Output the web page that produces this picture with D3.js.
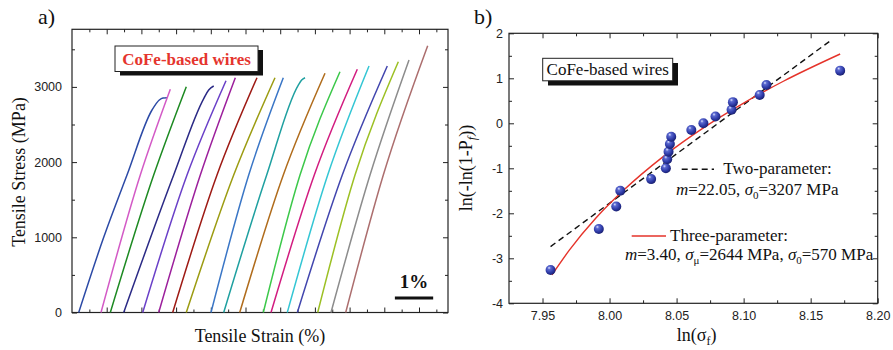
<!DOCTYPE html>
<html lang="en">
<head>
  <meta charset="UTF-8">
  <title>CoFe wires</title>
  <style>
    body { margin: 0; background: #fff; }
    text { fill: #111; }
  </style>
</head>
<script src="https://cdnjs.cloudflare.com/ajax/libs/d3/7.8.5/d3.min.js"></script>
<body>
<div id="chart"></div>
<script>

// ---- panel a) : tensile curves, [strain %, stress MPa]
var curveColors = ["#2c4aa6", "#d35ac6", "#1d8a22", "#2b2a86", "#6a40c8", "#9c1f9c",
                   "#9e1a14", "#9c9c12", "#3a76c6", "#1fa0a0", "#b06c1c", "#3cc84a",
                   "#d21c80", "#34c6d4", "#4246ae", "#9cc024", "#8c8c8c", "#ac6e6e"];

var curvePoints = [
  [[0.175, 0], [0.828, 1000], [1.436, 1828], [2.089, 2693], [2.279, 2826], [2.376, 2852], [2.480, 2856]],
  [[0.757, 0], [1.783, 1828], [2.567, 2968]],
  [[1.000, 0], [2.133, 1828], [2.984, 3003]],
  [[1.350, 0], [2.655, 1828], [3.446, 2852], [3.569, 2959], [3.700, 3012]],
  [[1.846, 0], [3.003, 1828], [4.021, 3082]],
  [[2.264, 0], [3.350, 1828], [4.264, 3122]],
  [[2.629, 0], [3.786, 1828], [4.830, 3122]],
  [[2.984, 0], [4.222, 1828], [5.300, 3122]],
  [[3.629, 0], [4.614, 1828], [5.517, 3122]],
  [[3.961, 0], [5.083, 1828], [5.909, 3025], [5.997, 3092], [6.084, 3122]],
  [[4.379, 0], [5.517, 1828], [6.606, 3181]],
  [[4.995, 0], [5.953, 1828], [6.997, 3202]],
  [[5.196, 0], [6.326, 1828], [7.449, 3234]],
  [[5.621, 0], [6.676, 1828], [7.755, 3278]],
  [[5.883, 0], [7.057, 1828], [8.232, 3278]],
  [[6.415, 0], [7.389, 1828], [8.520, 3335]],
  [[6.762, 0], [7.781, 1828], [8.799, 3358]],
  [[7.146, 0], [8.128, 1828], [9.287, 3548]]
];

var stressTicks = [0, 1000, 2000, 3000];
var scaleBar = [8.43, 9.43];   // 1 %

// ---- panel b) : Weibull plot
var lnSigma = [7.956, 7.992, 8.005, 8.008, 8.031, 8.042, 8.043, 8.044, 8.045, 8.046,
               8.061, 8.070, 8.079, 8.091, 8.092, 8.112, 8.117, 8.172];
var lnLnP   = [-3.26, -2.35, -1.85, -1.50, -1.24, -1.00, -0.80, -0.63, -0.46, -0.30,
               -0.15, 0.00, 0.15, 0.30, 0.47, 0.63, 0.85, 1.17];

var twoParam = [[7.956, -2.74], [8.1645, 1.83]];
var threeParam = [[7.957, -3.37], [7.970, -2.82], [7.990, -2.10], [8.010, -1.50], [8.040, -0.74],
                  [8.070, -0.10], [8.100, 0.45], [8.130, 0.94], [8.172, 1.54]];

var xbTicks = [7.95, 8.00, 8.05, 8.10, 8.15, 8.20];
var ybTicks = [-4, -3, -2, -1, 0, 1, 2];

var serif = "'Liberation Serif', 'Times New Roman', serif";
var sans = "'Liberation Sans', Arial, sans-serif";

var svg = d3.select("#chart").append("svg")
    .attr("width", 893)
    .attr("height", 350);

function frameAxes(g, x, y, xMajor, xMinor, yMajor, yMinor) {
    var r = x.range(), d = y.range();
    function add(axis, tr) {
        var a = g.append("g").attr("transform", tr).call(axis);
        a.select(".domain").remove();
        a.selectAll("line").attr("stroke", "#222");
        return a;
    }
    add(d3.axisBottom(x).tickValues(xMajor).tickSize(-5).tickFormat(""), "translate(0," + d[0] + ")");
    add(d3.axisBottom(x).tickValues(xMinor).tickSize(-3).tickFormat(""), "translate(0," + d[0] + ")");
    add(d3.axisTop(x).tickValues(xMajor).tickSize(-5).tickFormat(""), "translate(0," + d[1] + ")");
    add(d3.axisTop(x).tickValues(xMinor).tickSize(-3).tickFormat(""), "translate(0," + d[1] + ")");
    add(d3.axisLeft(y).tickValues(yMajor).tickSize(-5).tickFormat(""), "translate(" + r[0] + ",0)");
    add(d3.axisLeft(y).tickValues(yMinor).tickSize(-3).tickFormat(""), "translate(" + r[0] + ",0)");
    add(d3.axisRight(y).tickValues(yMajor).tickSize(-5).tickFormat(""), "translate(" + r[1] + ",0)");
    add(d3.axisRight(y).tickValues(yMinor).tickSize(-3).tickFormat(""), "translate(" + r[1] + ",0)");
    g.append("rect")
        .attr("x", r[0]).attr("y", d[1])
        .attr("width", r[1] - r[0]).attr("height", d[0] - d[1])
        .style("fill", "none").style("stroke", "#222").style("stroke-width", 1.2);
}

// ================= panel a
var xa = d3.scaleLinear().domain([0, 9.817]).range([72, 448]);
var ya = d3.scaleLinear().domain([0, 3766]).range([312.5, 29.3]);
var ga = svg.append("g");

var strainTicks = d3.range(1, 11).map(i => i * 0.906);
var strainMinor = d3.range(0, 11).map(i => i * 0.906 + 0.453).filter(v => v < 9.8);
frameAxes(ga, xa, ya, strainTicks, strainMinor, stressTicks, [500, 1500, 2500, 3500]);

ga.append("g").attr("transform", "translate(72,0)")
    .call(d3.axisLeft(ya).tickValues(stressTicks).tickSize(0).tickPadding(10).tickFormat(d => String(d)))
    .call(a => a.select(".domain").remove())
    .selectAll("text")
    .style("font-family", sans).style("font-size", "12.5px").style("fill", "#222");

var lineA = d3.line()
    .x(d => xa(d[0]))
    .y(d => ya(d[1]))
    .curve(d3.curveMonotoneX);

curvePoints.forEach((pts, i) => {
    ga.append("path")
        .attr("d", lineA(pts))
        .style("fill", "none")
        .style("stroke", curveColors[i])
        .style("stroke-width", 1.5);
});

// label box
ga.append("rect").attr("x", 120).attr("y", 50).attr("width", 143).attr("height", 25.5).style("fill", "#111");
ga.append("rect").attr("x", 115).attr("y", 46).attr("width", 143).attr("height", 25.5)
    .style("fill", "#fff").style("stroke", "#222").style("stroke-width", 1);
ga.append("text").attr("x", 186.5).attr("y", 65).attr("text-anchor", "middle")
    .style("font-family", serif).style("font-weight", "bold").style("font-size", "17px")
    .style("fill", "#e5352e").text("CoFe-based wires");

// scale bar
ga.append("line")
    .attr("x1", xa(scaleBar[0])).attr("x2", xa(scaleBar[1]))
    .attr("y1", 298).attr("y2", 298)
    .style("stroke", "#111").style("stroke-width", 3);
ga.append("text").attr("x", (xa(scaleBar[0]) + xa(scaleBar[1])) / 2).attr("y", 288)
    .attr("text-anchor", "middle")
    .style("font-family", serif).style("font-weight", "bold").style("font-size", "19px")
    .text("1%");

ga.append("text").attr("x", 38).attr("y", 24)
    .style("font-family", serif).style("font-size", "22px").text("a)");
ga.append("text").attr("x", 260).attr("y", 342).attr("text-anchor", "middle")
    .style("font-family", serif).style("font-size", "18px").text("Tensile Strain (%)");
ga.append("text").attr("transform", "translate(25,172) rotate(-90)").attr("text-anchor", "middle")
    .style("font-family", serif).style("font-size", "18px").text("Tensile Stress (MPa)");

// ================= panel b
var xb = d3.scaleLinear().domain([7.925, 8.2]).range([509, 877.7]);
var yb = d3.scaleLinear().domain([-4, 2]).range([303.3, 33.3]);
var gb = svg.append("g");

frameAxes(gb, xb, yb, xbTicks, [7.975, 8.025, 8.075, 8.125, 8.175],
          ybTicks, [-3.5, -2.5, -1.5, -0.5, 0.5, 1.5]);

gb.append("g").attr("transform", "translate(509,0)")
    .call(d3.axisLeft(yb).tickValues(ybTicks).tickSize(0).tickPadding(6).tickFormat(d => String(d)))
    .call(a => a.select(".domain").remove())
    .selectAll("text")
    .style("font-family", sans).style("font-size", "12.5px").style("fill", "#222");
gb.append("g").attr("transform", "translate(0,303.3)")
    .call(d3.axisBottom(xb).tickValues(xbTicks).tickSize(0).tickPadding(8).tickFormat(d => d.toFixed(2)))
    .call(a => a.select(".domain").remove())
    .selectAll("text")
    .style("font-family", sans).style("font-size", "12.5px").style("fill", "#222");

var lineB = d3.line()
    .x(d => xb(d[0]))
    .y(d => yb(d[1]));

gb.append("path").attr("d", lineB(twoParam))
    .style("fill", "none").style("stroke", "#111").style("stroke-width", 1.4)
    .style("stroke-dasharray", "6,4");
gb.append("path").attr("d", lineB.curve(d3.curveMonotoneX)(threeParam))
    .style("fill", "none").style("stroke", "#e5332a").style("stroke-width", 1.4);

var grad = svg.append("defs").append("radialGradient")
    .attr("id", "ball").attr("cx", "40%").attr("cy", "35%").attr("r", "65%").attr("fx", "35%").attr("fy", "28%");
grad.append("stop").attr("offset", "0%").attr("stop-color", "#dfe4ff");
grad.append("stop").attr("offset", "25%").attr("stop-color", "#5a68d0");
grad.append("stop").attr("offset", "70%").attr("stop-color", "#2c38a4");
grad.append("stop").attr("offset", "100%").attr("stop-color", "#1a2070");

gb.selectAll("circle.pt")
    .data(lnSigma.map((v, i) => [v, lnLnP[i]]))
    .enter().append("circle")
    .attr("class", "pt")
    .attr("cx", d => xb(d[0]))
    .attr("cy", d => yb(d[1]))
    .attr("r", 5)
    .style("fill", "url(#ball)");

// label box
gb.append("rect").attr("x", 548).attr("y", 63).attr("width", 130).attr("height", 22.5).style("fill", "#111");
gb.append("rect").attr("x", 542.7).attr("y", 58.3).attr("width", 130).attr("height", 22.5)
    .style("fill", "#fff").style("stroke", "#222").style("stroke-width", 1);
gb.append("text").attr("x", 607.7).attr("y", 75).attr("text-anchor", "middle")
    .style("font-family", serif).style("font-size", "17px").text("CoFe-based wires");

// legend
gb.append("line").attr("x1", 681.7).attr("x2", 714).attr("y1", 169.3).attr("y2", 169.3)
    .style("stroke", "#111").style("stroke-width", 1.4).style("stroke-dasharray", "6,4");
gb.append("text").attr("x", 723.3).attr("y", 174)
    .style("font-family", serif).style("font-size", "17px").text("Two-parameter:");
var t2 = gb.append("text").attr("x", 676).attr("y", 195)
    .style("font-family", serif).style("font-size", "17px");
t2.append("tspan").style("font-style", "italic").text("m");
t2.append("tspan").text("=22.05, ");
t2.append("tspan").style("font-style", "italic").text("σ");
t2.append("tspan").attr("dy", 4).style("font-size", "11px").text("0");
t2.append("tspan").attr("dy", -4).text("=3207 MPa");

gb.append("line").attr("x1", 631.7).attr("x2", 666).attr("y1", 236).attr("y2", 236)
    .style("stroke", "#e5332a").style("stroke-width", 1.4);
gb.append("text").attr("x", 670).attr("y", 241)
    .style("font-family", serif).style("font-size", "17px").text("Three-parameter:");
var t3 = gb.append("text").attr("x", 625).attr("y", 260)
    .style("font-family", serif).style("font-size", "17px");
t3.append("tspan").style("font-style", "italic").text("m");
t3.append("tspan").text("=3.40, ");
t3.append("tspan").style("font-style", "italic").text("σ");
t3.append("tspan").attr("dy", 4).style("font-size", "11px").text("μ");
t3.append("tspan").attr("dy", -4).text("=2644 MPa, ");
t3.append("tspan").style("font-style", "italic").text("σ");
t3.append("tspan").attr("dy", 4).style("font-size", "11px").text("0");
t3.append("tspan").attr("dy", -4).text("=570 MPa");

gb.append("text").attr("x", 474).attr("y", 24)
    .style("font-family", serif).style("font-size", "22px").text("b)");

var xl = gb.append("text").attr("x", 696.7).attr("y", 341).attr("text-anchor", "middle")
    .style("font-family", serif).style("font-size", "18px");
xl.append("tspan").text("ln(σ");
xl.append("tspan").attr("dy", 4).style("font-size", "12px").text("f");
xl.append("tspan").attr("dy", -4).text(")");

var yl = gb.append("text").attr("transform", "translate(472,168) rotate(-90)").attr("text-anchor", "middle")
    .style("font-family", serif).style("font-size", "18px");
yl.append("tspan").text("ln(-ln(1-P");
yl.append("tspan").attr("dy", 4).style("font-size", "12px").style("font-style", "italic").text("f");
yl.append("tspan").attr("dy", -4).text("))");

</script>
</body>
</html>
